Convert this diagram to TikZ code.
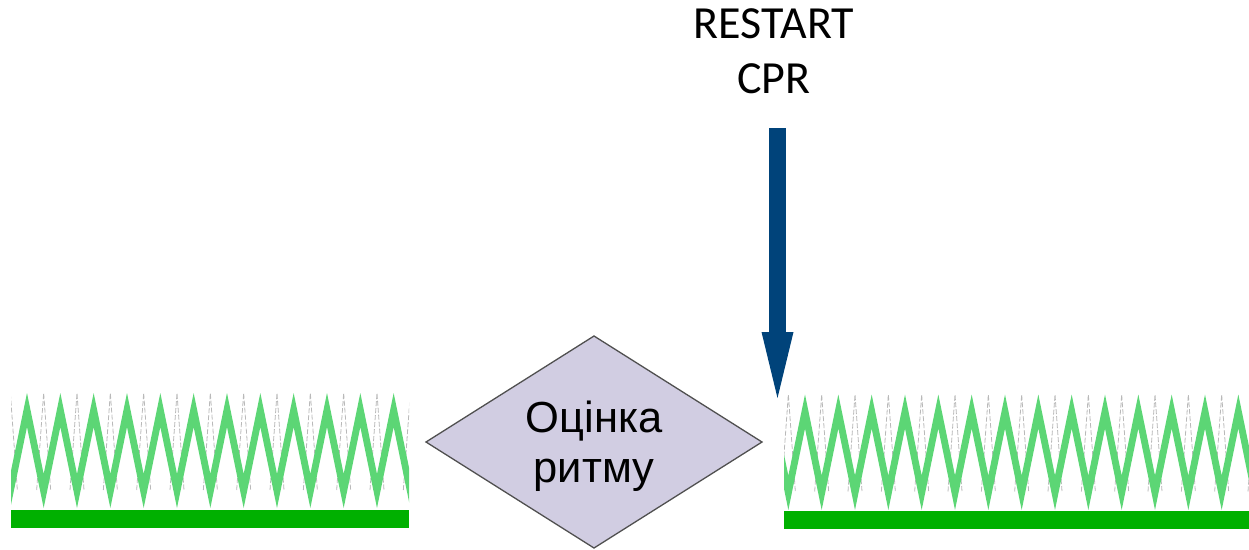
\documentclass[tikz,border=0pt]{standalone}
\usepackage{fontspec}
\newfontfamily\calibrifont{Carlito}
\newfontfamily\arialfont{Liberation Sans}
\usetikzlibrary{shapes.geometric,arrows.meta}
\definecolor{ziggreen}{RGB}{92,214,117}
\definecolor{bargreen}{RGB}{0,176,0}
\definecolor{arrowblue}{RGB}{0,67,122}
\definecolor{lavender}{RGB}{209,205,226}
\definecolor{edgegrey}{RGB}{80,80,80}
\definecolor{ghostgrey}{RGB}{185,185,185}
\tikzset{
  zigband/.style={fill=ziggreen},
  ghostline/.style={draw=ghostgrey,line width=0.8pt,dash pattern=on 5pt off 2pt},
  basebar/.style={fill=bargreen},
  decision/.style={diamond,draw=edgegrey,line width=1.3pt,fill=lavender,
    minimum width=336pt,minimum height=212pt,inner sep=0pt,outer sep=0pt},
  dtext/.style={font=\arialfont\fontsize{43.5}{50}\selectfont,align=center,inner sep=0pt},
  ctext/.style={font=\calibrifont\fontsize{46}{55}\selectfont,align=center,inner sep=0pt},
  bigarrow/.style={draw=arrowblue,line width=16.4pt,
    -{Triangle[width=32pt,length=66pt,line width=0pt,fill=arrowblue]}}
}
\begin{document}
\begin{tikzpicture}[x=1pt,y=-1pt]
\useasboundingbox (0,0) rectangle (1249,549);

% ---------- left strip ----------
\begin{scope}
  \clip (11,380) rectangle (409,509);
  \foreach \k in {0,...,12}
    \draw[ghostline] ({10.333+33.333*\k-7},490) -- ({10.333+33.333*\k},393) -- ({10.333+33.333*\k+7},490);
  \fill[zigband] (10.333,474)
    \foreach \k in {0,...,11} { -- ({27+33.333*\k},393) -- ({43.667+33.333*\k},474) }
    -- (410.333,508)
    \foreach \k in {11,...,0} { -- ({27+33.333*\k},427) -- ({10.333+33.333*\k},508) }
    -- cycle;
\end{scope}
\fill[basebar] (11,510) rectangle (409,528);

% ---------- right strip ----------
\begin{scope}
  \clip (784,380) rectangle (1249,511);
  \foreach \k in {-1,...,14}
    \draw[ghostline] ({788.333+33.333*\k-7},491.5) -- ({788.333+33.333*\k},394.5) -- ({788.333+33.333*\k+7},491.5);
  \fill[zigband] (755,475.5)
    \foreach \k in {-1,...,13} { -- ({805+33.333*\k},394.5) -- ({821.667+33.333*\k},475.5) }
    -- (1255,510)
    \foreach \k in {13,...,-1} { -- ({805+33.333*\k},428.5) -- ({788.333+33.333*\k},510) }
    -- cycle;
\end{scope}
\fill[basebar] (784,511) rectangle (1249,529);

% ---------- decision ----------
\node[decision] (dec) at (594,442) {};
\node[dtext] (dectext) at (594,446) {Оцінка\\ритму};

% ---------- restart ----------
\node[ctext] (restart) at (774,51) {RESTART\\CPR};
\coordinate (arrS) at (777.5,128);
\coordinate (arrE) at (777.5,398);
\draw[bigarrow] (arrS) -- (arrE);
\end{tikzpicture}
\end{document}
